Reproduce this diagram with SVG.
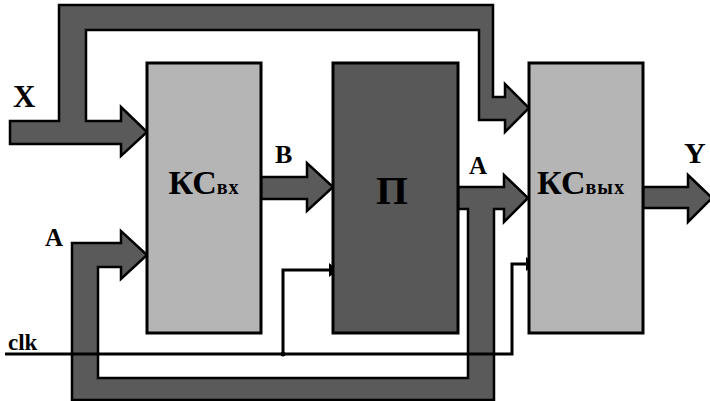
<svg xmlns="http://www.w3.org/2000/svg" width="710" height="401" viewBox="0 0 710 401">
  <style>
    .bus { fill: #5a5a5a; stroke: #000; stroke-width: 2.5; stroke-linejoin: miter; }
    .clk { fill: none; stroke: #000; stroke-width: 3; }
    .tip { fill: #000; }
    .block { stroke: #000; stroke-width: 3; }
    .light { fill: #b5b5b5; }
    .dark { fill: #585858; }
    .lbl { font-family: "Liberation Serif", "Times New Roman", serif; font-weight: bold; fill: #000; }
  </style>
  <rect width="710" height="401" fill="#fff"/>

  <g id="connectors">
    <!-- input bus X: to КСвх and, over the top, to КСвых -->
    <path class="bus" d="M10,121 H59 V5 H493 V97 H505 V84 L529,108 L505,132 V120 H479 V30 H86 V121 H121 V107 L147,132 L121,156 V144 H10 Z"/>
    <!-- bus B: КСвх to П -->
    <path class="bus" d="M261,177 H307 V163 L333,187 L307,211 V199 H261 Z"/>
    <!-- bus A: П to КСвых, with feedback loop back to КСвх -->
    <path class="bus" d="M458,187 H504 V175 L528,198 L504,222 V209 H494 V400 H72 V243 H121 V231 L147,255 L121,279 V267 H98 V378 H468 V209 H458 Z"/>
    <!-- output bus Y -->
    <path class="bus" d="M643,187 H688 V175 L712,198 L688,222 V208 H643 Z"/>
    <!-- clock line with taps to П and КСвых -->
    <path class="clk" d="M5,354 H512 V264 H528"/>
    <path class="clk" d="M283,354 V270 H331"/>
    <circle cx="283" cy="354" r="2.5" class="tip"/>
    <polygon class="tip" points="329,263 338,270 329,277"/>
    <polygon class="tip" points="526,257 535,264 526,271"/>
  </g>

  <g id="node-kc-in">
    <rect class="block light" x="147" y="63" width="114" height="270"/>
    <text class="lbl" x="204" y="194" text-anchor="middle" font-size="34">КС<tspan font-size="20" letter-spacing="1">вх</tspan></text>
  </g>

  <g id="node-p">
    <rect class="block dark" x="333" y="63" width="125" height="270"/>
    <text class="lbl" x="392" y="204" text-anchor="middle" font-size="41">П</text>
  </g>

  <g id="node-kc-out">
    <rect class="block light" x="529" y="63" width="114" height="270"/>
    <text class="lbl" x="581" y="194" text-anchor="middle" font-size="34">КС<tspan font-size="20" letter-spacing="1">вых</tspan></text>
  </g>

  <g id="labels">
    <text class="lbl" x="13" y="107" font-size="31">X</text>
    <text class="lbl" x="275" y="163" font-size="26">B</text>
    <text class="lbl" x="469" y="174" font-size="25">A</text>
    <text class="lbl" x="684" y="163" font-size="30">Y</text>
    <text class="lbl" x="45" y="246" font-size="25">A</text>
    <text class="lbl" x="8" y="350" font-size="23">clk</text>
  </g>
</svg>
